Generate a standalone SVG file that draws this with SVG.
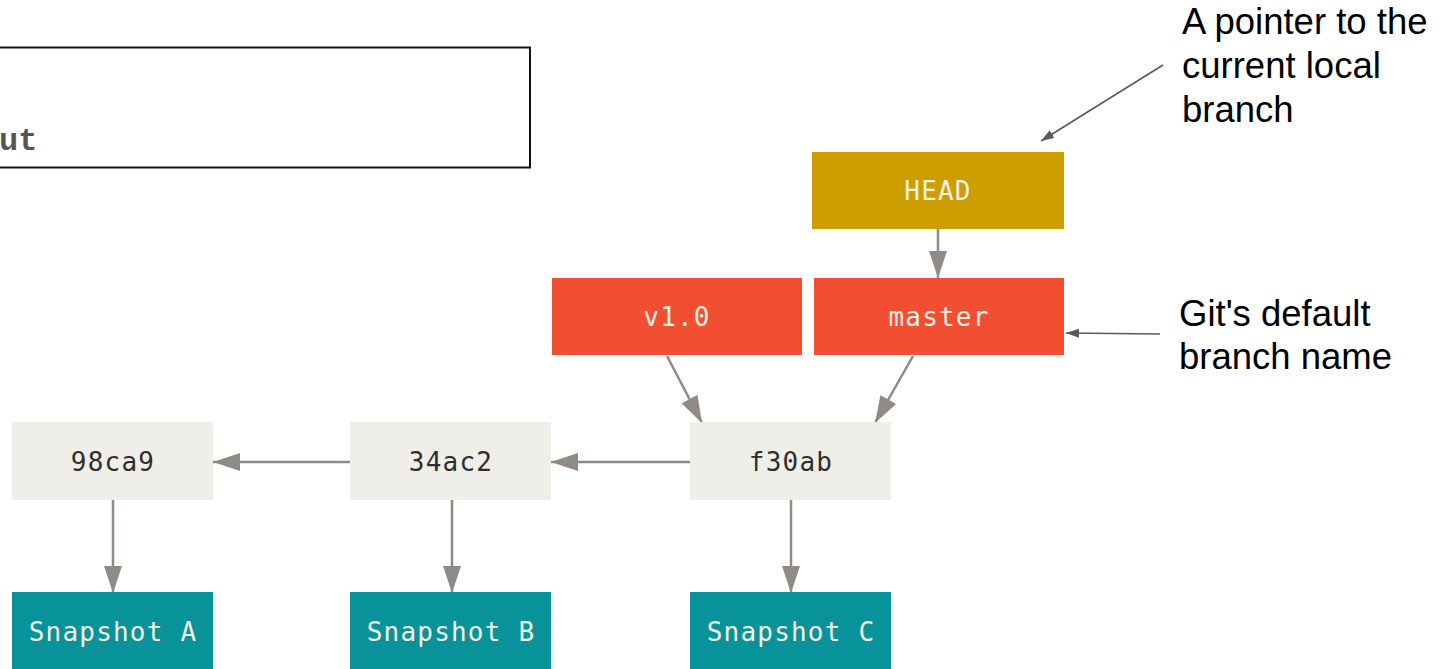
<svg xmlns="http://www.w3.org/2000/svg" width="1449" height="669" viewBox="0 0 1449 669">
  <style>
    .box-ref { fill: #f14e32; }
    .box-head { fill: #cc9e00; }
    .box-commit { fill: #efeee8; }
    .box-snap { fill: #08939b; }
    .lbl { font-family: "DejaVu Sans Mono", monospace; font-size: 26px; letter-spacing: 1.2px; text-anchor: middle; }
    .lbl-light { fill: #f6f1e2; }
    .lbl-dark { fill: #2e2e2e; }
    .edge { stroke: #8f8a85; stroke-width: 2.5; fill: none; }
    .note-edge { stroke: #595959; stroke-width: 1.6; fill: none; }
    .note { font-family: "Liberation Sans", Arial, sans-serif; font-size: 36.5px; fill: #000; }
    .cmd { font-family: "Liberation Mono", "Courier New", monospace; font-weight: bold; font-size: 32px; fill: #555; }
  </style>
  <defs>
    <marker id="arrow" markerUnits="userSpaceOnUse" markerWidth="28" markerHeight="20" viewBox="0 0 28 20" refX="27" refY="10" orient="auto">
      <path d="M0,1 L27,10 L0,19 Z" fill="#8f8a85"/>
    </marker>
    <marker id="arrow-note" markerUnits="userSpaceOnUse" markerWidth="14" markerHeight="10" viewBox="0 0 14 10" refX="13" refY="5" orient="auto">
      <path d="M0,0.5 L13,5 L0,9.5 Z" fill="#595959"/>
    </marker>
  </defs>

  <rect width="1449" height="669" fill="#ffffff"/>

  <!-- command box, partly off the left edge -->
  <g id="command">
    <rect x="-4" y="47.5" width="534" height="120" fill="#ffffff" stroke="#111" stroke-width="2"/>
    <text class="cmd" x="-1" y="150">ut</text>
  </g>

  <!-- connectors -->
  <g id="connectors">
    <line class="edge" x1="938" y1="229" x2="938" y2="278" marker-end="url(#arrow)"/>
    <line class="edge" x1="667" y1="356" x2="702" y2="423" marker-end="url(#arrow)"/>
    <line class="edge" x1="913" y1="356" x2="875" y2="423" marker-end="url(#arrow)"/>
    <line class="edge" x1="690" y1="462" x2="551" y2="462" marker-end="url(#arrow)"/>
    <line class="edge" x1="350" y1="462" x2="213" y2="462" marker-end="url(#arrow)"/>
    <line class="edge" x1="113" y1="500" x2="113" y2="593" marker-end="url(#arrow)"/>
    <line class="edge" x1="452" y1="500" x2="452" y2="593" marker-end="url(#arrow)"/>
    <line class="edge" x1="791" y1="500" x2="791" y2="593" marker-end="url(#arrow)"/>
    <line class="note-edge" x1="1163" y1="65" x2="1041" y2="141" marker-end="url(#arrow-note)"/>
    <line class="note-edge" x1="1160" y1="334" x2="1066" y2="333" marker-end="url(#arrow-note)"/>
  </g>

  <g id="head">
    <rect class="box-head" x="812" y="152" width="252" height="77"/>
    <text class="lbl lbl-light" x="938" y="200">HEAD</text>
  </g>

  <g id="tag-v1">
    <rect class="box-ref" x="552" y="278" width="250" height="77"/>
    <text class="lbl lbl-light" x="677" y="326">v1.0</text>
  </g>

  <g id="branch-master">
    <rect class="box-ref" x="814" y="278" width="250" height="77"/>
    <text class="lbl lbl-light" x="939" y="326">master</text>
  </g>

  <g id="commit-98ca9">
    <rect class="box-commit" x="12" y="422" width="201" height="78"/>
    <text class="lbl lbl-dark" x="113" y="471">98ca9</text>
  </g>

  <g id="commit-34ac2">
    <rect class="box-commit" x="350" y="422" width="201" height="78"/>
    <text class="lbl lbl-dark" x="451" y="471">34ac2</text>
  </g>

  <g id="commit-f30ab">
    <rect class="box-commit" x="690" y="422" width="201" height="78"/>
    <text class="lbl lbl-dark" x="791" y="471">f30ab</text>
  </g>

  <g id="snapshot-a">
    <rect class="box-snap" x="12" y="592" width="201" height="80"/>
    <text class="lbl lbl-light" x="113" y="641">Snapshot A</text>
  </g>

  <g id="snapshot-b">
    <rect class="box-snap" x="350" y="592" width="201" height="80"/>
    <text class="lbl lbl-light" x="451" y="641">Snapshot B</text>
  </g>

  <g id="snapshot-c">
    <rect class="box-snap" x="690" y="592" width="201" height="80"/>
    <text class="lbl lbl-light" x="791" y="641">Snapshot C</text>
  </g>

  <g id="note-head">
    <text class="note" x="1182" y="34">A pointer to the</text>
    <text class="note" x="1182" y="78">current local</text>
    <text class="note" x="1182" y="122">branch</text>
  </g>

  <g id="note-master">
    <text class="note" x="1179" y="326">Git's default</text>
    <text class="note" x="1179" y="369">branch name</text>
  </g>
</svg>
